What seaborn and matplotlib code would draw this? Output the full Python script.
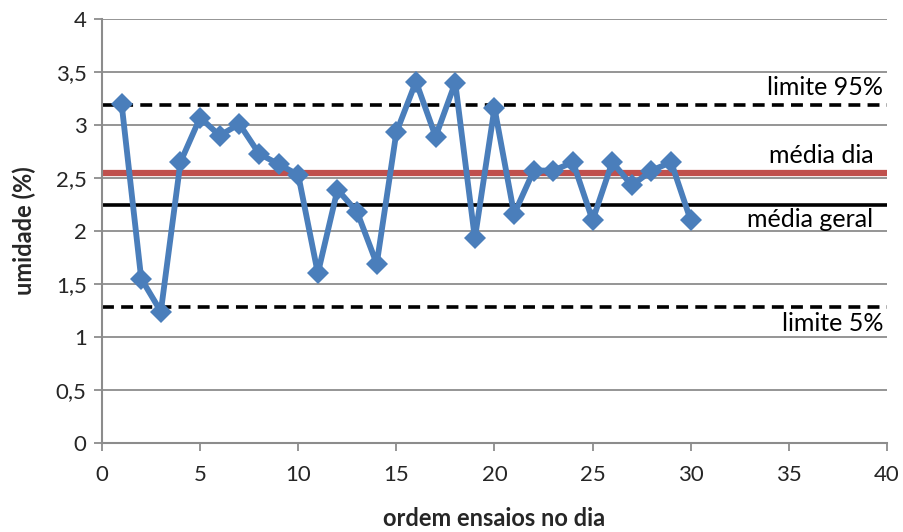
import matplotlib
matplotlib.use("Agg")
import matplotlib.pyplot as plt
import seaborn as sns
import pandas as pd
from matplotlib.ticker import FuncFormatter, MultipleLocator

# Moisture readings, in test order within the day
ensaio = list(range(1, 31))
umidade = [3.20, 1.55, 1.24, 2.65, 3.07, 2.90, 3.01, 2.73, 2.63, 2.53,
           1.60, 2.39, 2.18, 1.69, 2.93, 3.41, 2.89, 3.40, 1.93, 3.16,
           2.16, 2.57, 2.57, 2.65, 2.10, 2.65, 2.43, 2.57, 2.65, 2.10]

# Reference levels
limite_95 = 3.19
media_dia = 2.55
media_geral = 2.245
limite_5 = 1.28

sns.set_style("white")
plt.rcParams["font.family"] = ["Lato", "DejaVu Sans"]

df = pd.DataFrame({"ordem": ensaio, "umidade": umidade})

fig = plt.figure(figsize=(9.04, 5.32), dpi=100)
ax = fig.add_axes([0.1128, 0.1673, 0.8684, 0.797])

grid_c = "#8c8c8c"
ax.set_xlim(0, 40)
ax.set_ylim(0, 4)
ax.yaxis.set_major_locator(MultipleLocator(0.5))
ax.xaxis.set_major_locator(MultipleLocator(5))
ax.yaxis.grid(True, color=grid_c, linewidth=1.3)
ax.set_axisbelow(True)

ax.axhline(limite_95, color="black", linewidth=2.6, linestyle=(0, (3.3, 2)), zorder=2)
ax.axhline(limite_5, color="black", linewidth=2.6, linestyle=(0, (3.3, 2)), zorder=2)
ax.axhline(media_geral, color="black", linewidth=2.6, zorder=2)
ax.axhline(media_dia, color="#C0504D", linewidth=4.5, zorder=2)

sns.lineplot(data=df, x="ordem", y="umidade", ax=ax, color="#4A7EBB",
             linewidth=4.2, marker="D", markersize=11, markeredgewidth=0,
             zorder=3)

lab_kw = dict(ha="right", va="center", fontsize=18, color="black")
ax.text(39.8, limite_95 + 0.16, "limite 95%", **lab_kw)
ax.text(39.3, media_dia + 0.16, "média dia", **lab_kw)
ax.text(39.3, media_geral - 0.14, "média geral", **lab_kw)
ax.text(39.8, limite_5 - 0.15, "limite 5%", **lab_kw)

for side in ("top", "right"):
    ax.spines[side].set_visible(False)
for side in ("left", "bottom"):
    ax.spines[side].set_color(grid_c)
    ax.spines[side].set_linewidth(1.5)

ax.tick_params(axis="both", direction="out", length=6, width=1.3,
               color=grid_c, labelsize=16, pad=5)
ax.tick_params(axis="x", pad=10)
ax.tick_params(left=True, bottom=True)
ax.yaxis.set_major_formatter(FuncFormatter(
    lambda v, _: f"{v:g}".replace(".", ",")))

ax.set_xlabel("ordem ensaios no dia", fontsize=17, fontweight="bold", labelpad=16)
ax.set_ylabel("umidade (%)", fontsize=17, fontweight="bold", labelpad=14)

fig.savefig("out.png", dpi=100)
